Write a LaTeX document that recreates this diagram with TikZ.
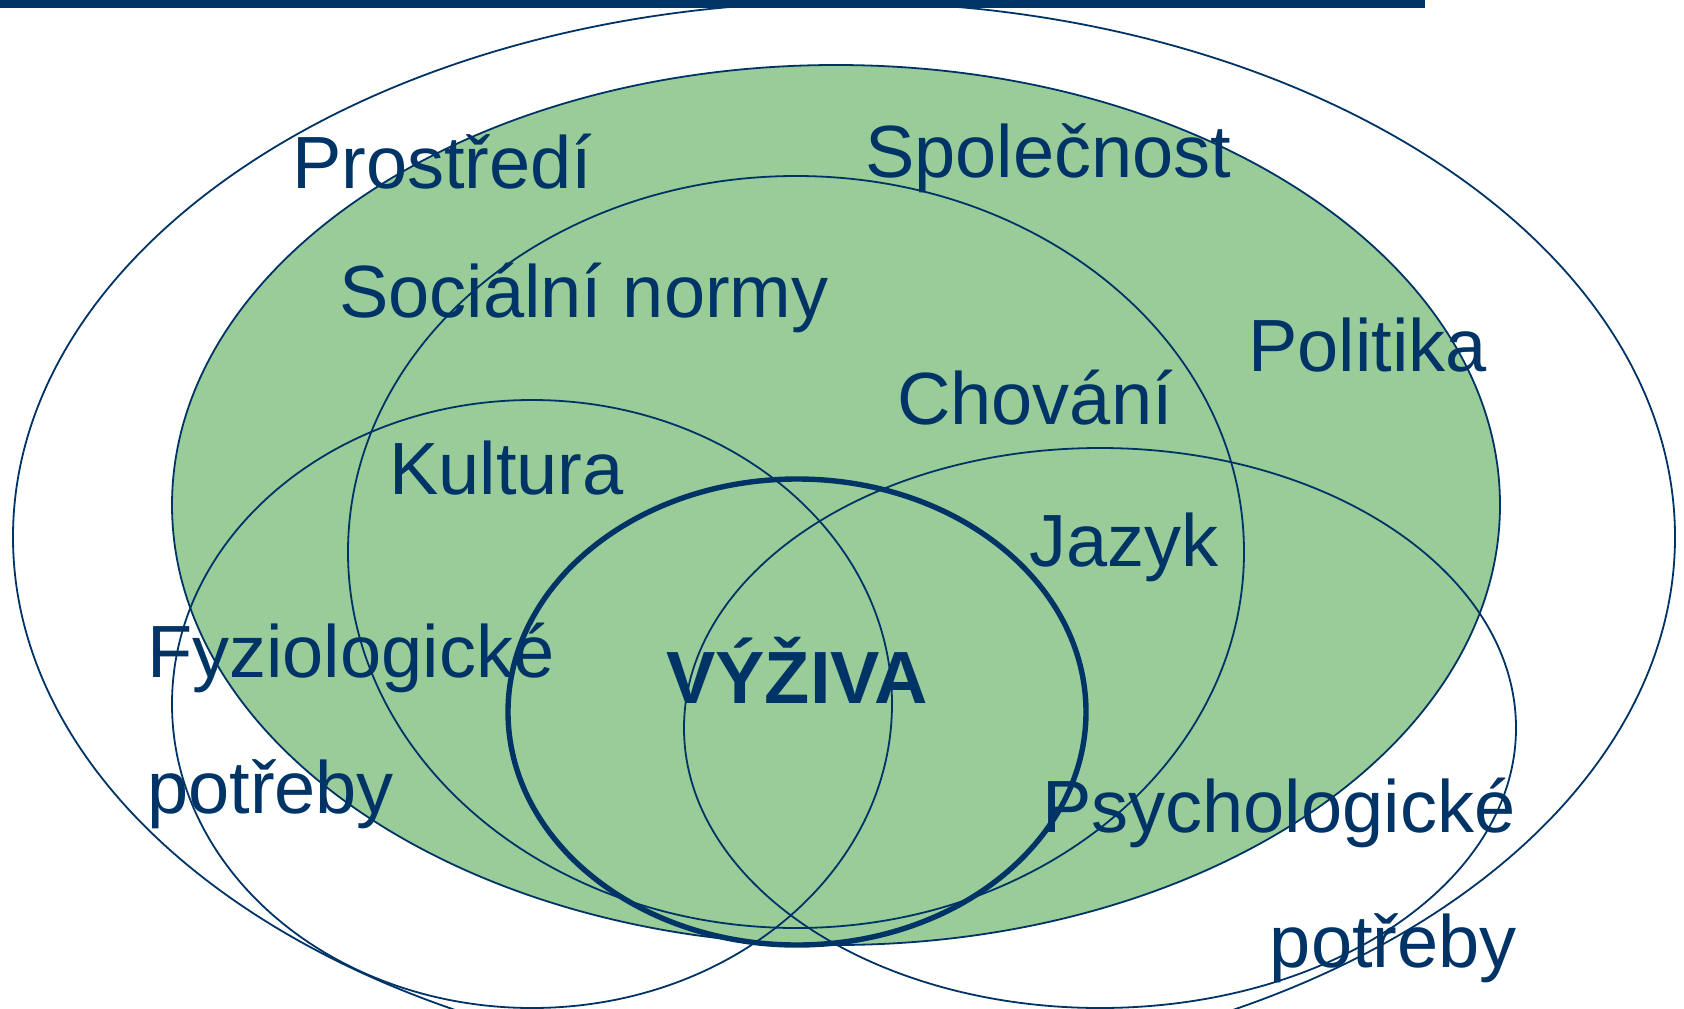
\documentclass[tikz,border=0pt]{standalone}
\usepackage{fontspec}
\setmainfont{Liberation Sans}
\definecolor{navy}{RGB}{0,51,102}
\definecolor{leaf}{RGB}{153,204,153}

\begin{document}
\begin{tikzpicture}[x=1pt,y=-1pt,
    ring/.style={draw=navy,line width=1.8pt},
    core/.style={draw=navy,line width=5.4pt},
    lbl/.style={anchor=base west,inner sep=0pt,text=navy,font=\fontsize{74}{88}\selectfont}]
   \useasboundingbox (0,0) rectangle (1684,1009);
   \clip (0,0) rectangle (1684,1009);
   % centres of the rings
   \coordinate (env)  at (844,537);
   \coordinate (soc)  at (836,505);
   \coordinate (norm) at (796,552);
   \coordinate (phys) at (532,704);
   \coordinate (psy)  at (1100,728);
   \coordinate (nut)  at (797,712);

   \fill[leaf] (soc) ellipse [x radius=664,y radius=440];
   \draw[ring] (env)  ellipse [x radius=831,y radius=535];
   \draw[ring] (soc)  ellipse [x radius=664,y radius=440];
   \draw[ring] (norm) ellipse [x radius=448,y radius=376];
   \draw[ring] (phys) ellipse [x radius=360,y radius=304];
   \draw[ring] (psy)  ellipse [x radius=416,y radius=280];
   \draw[core] (nut)  ellipse [x radius=289,y radius=233];

   \fill[navy] (0,0) rectangle (1425,8);

   \node[lbl] (prostredi) at (292,188) {Prostředí};
   \node[lbl] (spolecnost) at (865,177) {Společnost};
   \node[lbl] (normy) at (339,317) {Sociální normy};
   \node[lbl] (politika) at (1248,371) {Politika};
   \node[lbl] (chovani) at (897,424) {Chování};
   \node[lbl] (kultura) at (389,494) {Kultura};
   \node[lbl] (jazyk) at (1029,566) {Jazyk};
   \node[lbl] (fyzio) at (147,677) {Fyziologické};
   \node[lbl] (fyzio2) at (147,813) {potřeby};
   \node[lbl,font=\fontsize{74}{88}\selectfont\bfseries] (vyziva) at (666,703) {VÝŽIVA};
   \node[lbl] (psycho) at (1042,832) {Psychologické};
   \node[lbl,anchor=base east] (psycho2) at (1517,967) {potřeby};
\end{tikzpicture}
\end{document}
